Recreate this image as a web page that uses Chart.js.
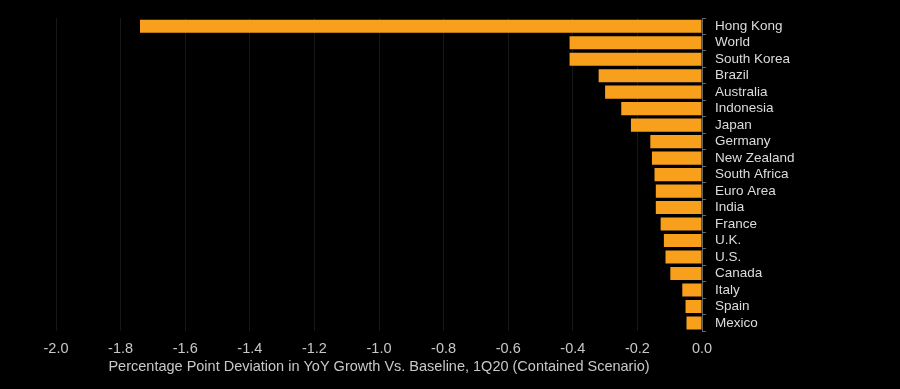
<!DOCTYPE html>
<html>
<head>
<meta charset="utf-8">
<script src="https://cdn.jsdelivr.net/npm/chart.js@4/dist/chart.umd.min.js"></script>
<style>
  html, body { margin: 0; padding: 0; background: #000; }
  #wrap { width: 900px; height: 389px; }
</style>
</head>
<body>
<div id="wrap"><canvas id="deviation-chart"></canvas></div>
<script>
    "use strict";

    // Data
    var countries = ["Hong Kong", "World", "South Korea", "Brazil", "Australia", "Indonesia", "Japan",
        "Germany", "New Zealand", "South Africa", "Euro Area", "India", "France", "U.K.", "U.S.",
        "Canada", "Italy", "Spain", "Mexico"];
    var deviation = [-1.74, -0.41, -0.41, -0.32, -0.30, -0.25, -0.22,
        -0.16, -0.155, -0.147, -0.143, -0.143, -0.128, -0.118, -0.113,
        -0.098, -0.061, -0.051, -0.048];
    var xMin = -2.0, xMax = 0.0, xStep = 0.2;
    var axisTitle = "Percentage Point Deviation in YoY Growth Vs. Baseline, 1Q20 (Contained Scenario)";

    var font = "'Liberation Sans', Arial, sans-serif";

    // Deviation Chart
    var ctx = document.getElementById("deviation-chart").getContext("2d");
    var myChart = new Chart(ctx, {
        type: "bar",
        data: {
            labels: countries,
            datasets: [{
                data: deviation,
                backgroundColor: "#f8a01c",
                borderWidth: 0,
                barPercentage: 0.82,
                categoryPercentage: 0.97
            }]
        },
        options: {
            indexAxis: "y",
            responsive: true,
            maintainAspectRatio: false,
            animation: false,
            layout: {
                padding: { left: 56, top: 18, bottom: 13, right: 0 }
            },
            plugins: {
                legend: { display: false },
                tooltip: { enabled: false }
            },
            scales: {
                x: {
                    min: xMin,
                    max: xMax,
                    ticks: {
                        stepSize: xStep,
                        color: "#c8c8c8",
                        font: { family: font, size: 14.5 },
                        padding: 9,
                        callback: function (v) { return Number(v).toFixed(1); }
                    },
                    grid: {
                        color: "#171717",
                        drawTicks: false
                    },
                    border: { display: false },
                    title: {
                        display: true,
                        text: axisTitle,
                        color: "#c8c8c8",
                        font: { family: font, size: 14.5 },
                        padding: { top: -8, bottom: 0 }
                    }
                },
                y: {
                    position: "right",
                    ticks: {
                        color: "#dcdcdc",
                        font: { family: font, size: 13.5 },
                        padding: 9,
                        autoSkip: false
                    },
                    grid: {
                        drawOnChartArea: false,
                        color: "#666",
                        tickLength: 4
                    },
                    border: { color: "#666" },
                    afterFit: function (scale) { scale.width = 198; }
                }
            }
        }
    });
</script>
</body>
</html>
